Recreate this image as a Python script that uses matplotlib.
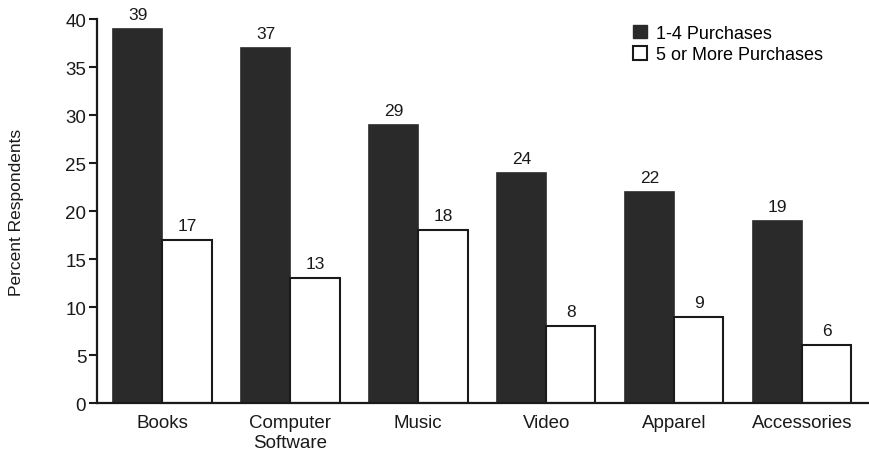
import matplotlib
matplotlib.use("Agg")
import matplotlib.pyplot as plt
import numpy as np
from matplotlib.patches import Patch

plt.rcParams['font.family'] = ['Liberation Sans', 'DejaVu Sans']

# data
categories = ["Books", "Computer\nSoftware", "Music", "Video", "Apparel", "Accessories"]
few_purchases = [39, 37, 29, 24, 22, 19]
many_purchases = [17, 13, 18, 8, 9, 6]
yticks = [0, 5, 10, 15, 20, 25, 30, 35, 40]

fig = plt.figure(figsize=(8.69, 4.56), dpi=100)
ax = fig.add_axes([0.112, 0.114, 0.887, 0.842])

x = np.arange(len(categories))
w = 0.385
dark = "#2a2a2a"

b1 = ax.bar(x - w / 2, few_purchases, w, color=dark, edgecolor=dark, linewidth=1.2)
b2 = ax.bar(x + w / 2, many_purchases, w, color="white", edgecolor="#1a1a1a", linewidth=1.5)

# value labels above the bars
for rects, vals in ((b1, few_purchases), (b2, many_purchases)):
    for r, v in zip(rects, vals):
        ax.annotate(str(v), (r.get_x() + r.get_width() / 2, v), xytext=(0, 5),
                    textcoords="offset points", ha="center", va="bottom",
                    fontsize=12.5, color="#1a1a1a")

ax.set_xlim(-0.508, 5.516)
ax.set_ylim(0, 40)
ax.set_yticks(yticks)
ax.set_xticks(x)
ax.set_xticklabels(categories, fontsize=13.5, color="#1a1a1a", linespacing=1.2)
ax.tick_params(axis="x", length=0, pad=8)
ax.tick_params(axis="y", length=6, width=1.5, labelsize=13.5, colors="#1a1a1a", pad=2)

for s in ("top", "right"):
    ax.spines[s].set_visible(False)
for s in ("left", "bottom"):
    ax.spines[s].set_linewidth(1.6)
    ax.spines[s].set_color("#1a1a1a")

ax.set_ylabel("Percent Respondents", fontsize=12.5, color="#1a1a1a", labelpad=30)

handles = [Patch(facecolor=dark, edgecolor=dark, label="1-4 Purchases"),
           Patch(facecolor="white", edgecolor="#1a1a1a", linewidth=1.5, label="5 or More Purchases")]
ax.legend(handles=handles, loc="upper left", bbox_to_anchor=(0.695, 0.985), frameon=False,
          fontsize=13, handlelength=0.75, handleheight=0.75, handletextpad=0.5,
          labelspacing=0.25, borderpad=0, borderaxespad=0)

fig.savefig("out.png", dpi=100)
